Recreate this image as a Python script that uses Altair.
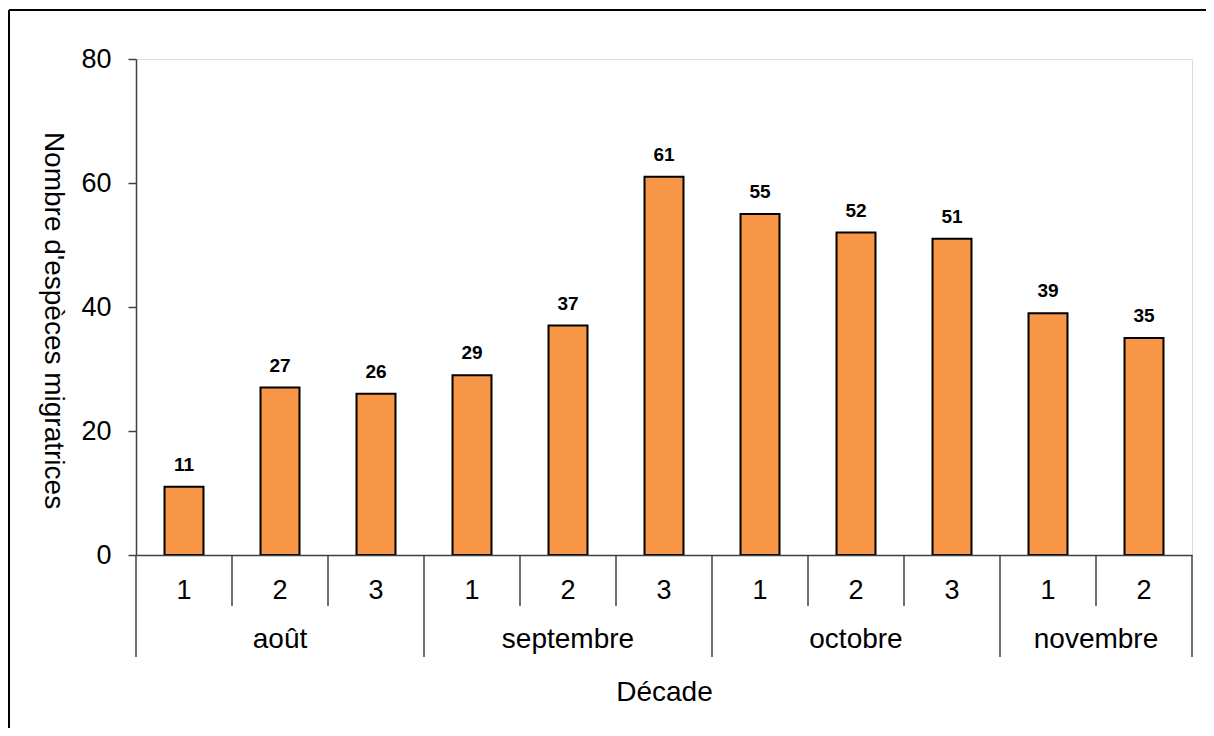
import altair as alt
import pandas as pd

# ---- data ----
months = ["août", "août", "août", "septembre", "septembre", "septembre",
          "octobre", "octobre", "octobre", "novembre", "novembre"]
decades = [1, 2, 3, 1, 2, 3, 1, 2, 3, 1, 2]
species = [11, 27, 26, 29, 37, 61, 55, 52, 51, 39, 35]
month_names = ["août", "septembre", "octobre", "novembre"]
y_ticks = [0, 20, 40, 60, 80]

keys = [f"{m} {d}" for m, d in zip(months, decades)]
df = pd.DataFrame({"cat": keys, "mois": months, "decade": decades, "n": species})

# month label positions (category + position inside band)
mrows = []
for m in month_names:
    idx = [i for i, mm in enumerate(months) if mm == m]
    start, cnt = idx[0], len(idx)
    mrows.append({"cat": keys[start + cnt // 2], "mois": m, "odd": cnt % 2 == 1})
mdf = pd.DataFrame(mrows)

# separators
long_rows, short_rows = [], []
for i, k in enumerate(keys):
    if i == 0 or months[i] != months[i - 1]:
        long_rows.append({"cat": k})
    else:
        short_rows.append({"cat": k})
long_df = pd.DataFrame(long_rows)
short_df = pd.DataFrame(short_rows)
last_df = pd.DataFrame({"cat": [keys[-1]]})

W, H = 1056, 496
FONT = "Liberation Sans"
DARK = "#404040"

xscale = alt.Scale(domain=keys, paddingInner=0, paddingOuter=0)

xaxis = alt.Axis(
    labelExpr="split(datum.label, ' ')[1]", labelAngle=0, labelFontSize=27,
    labelFont=FONT, labelColor="black", labelBaseline="middle", labelPadding=35,
    ticks=False, tickSize=0, domainColor=DARK, domainWidth=1.5,
    title="Décade", titleFont=FONT, titleFontSize=28, titleFontWeight="normal",
    titleColor="black", titleY=137, titleBaseline="middle", zindex=1,
)
yaxis = alt.Axis(
    values=y_ticks, grid=False, labelFontSize=27, labelFont=FONT, labelColor="black",
    labelPadding=17, tickSize=8, tickColor=DARK, tickWidth=1.5,
    domainColor=DARK, domainWidth=1.5,
    title="Nombre d'espèces migratrices", titleFont=FONT, titleFontSize=28,
    titleFontWeight="normal", titleColor="black", titleAngle=90,
    titleX=-84, titleY=261, titleBaseline="middle", titleAlign="center", zindex=1,
)

base = alt.Chart(df)

bars = base.mark_bar(
    width=alt.RelativeBandSize(0.406), color="#F79646", stroke="black", strokeWidth=2
).encode(
    x=alt.X("cat:N", sort=keys, scale=xscale, axis=xaxis),
    y=alt.Y("n:Q", scale=alt.Scale(domain=[0, 80]), axis=yaxis),
)

values = base.mark_text(
    font=FONT, fontSize=19, fontWeight="bold", color="black", baseline="alphabetic", dy=-16
).encode(
    x=alt.X("cat:N", sort=keys),
    y=alt.Y("n:Q"),
    text="n:Q",
)

short_rules = alt.Chart(short_df).mark_rule(color=DARK, strokeWidth=1.5).encode(
    x=alt.X("cat:N", sort=keys, bandPosition=0),
    y=alt.value(H), y2=alt.value(H + 51),
)
long_rules = alt.Chart(long_df).mark_rule(color=DARK, strokeWidth=1.5).encode(
    x=alt.X("cat:N", sort=keys, bandPosition=0),
    y=alt.value(H), y2=alt.value(H + 102),
)
last_rule = alt.Chart(last_df).mark_rule(color=DARK, strokeWidth=1.5).encode(
    x=alt.X("cat:N", sort=keys, bandPosition=1),
    y=alt.value(H), y2=alt.value(H + 102),
)

month_odd = alt.Chart(mdf).transform_filter("datum.odd").mark_text(
    font=FONT, fontSize=28, color="black", baseline="middle"
).encode(
    x=alt.X("cat:N", sort=keys, bandPosition=0.5),
    y=alt.value(581),
    text="mois:N",
)
month_even = alt.Chart(mdf).transform_filter("!datum.odd").mark_text(
    font=FONT, fontSize=28, color="black", baseline="middle"
).encode(
    x=alt.X("cat:N", sort=keys, bandPosition=0),
    y=alt.value(581),
    text="mois:N",
)

# outer frame of the chart (left and top edges visible)
frame_left = alt.Chart(last_df).mark_rule(color="black", strokeWidth=2).encode(
    x=alt.value(-127), y=alt.value(-49), y2=alt.value(700)
)
frame_top = alt.Chart(last_df).mark_rule(color="black", strokeWidth=2).encode(
    y=alt.value(-49), x=alt.value(-127), x2=alt.value(1100)
)

chart = alt.layer(
    bars, values, short_rules, long_rules, last_rule, month_odd, month_even,
    frame_left, frame_top
).properties(
    width=W, height=H,
    autosize=alt.AutoSizeParams(type="none"),
    padding={"left": 128, "top": 51, "right": 14, "bottom": 173},
).configure_view(
    stroke="#8c8c8c", strokeWidth=2
).configure(background="white")

chart.save("out.html", embed_options={"renderer": "svg", "actions": False})
